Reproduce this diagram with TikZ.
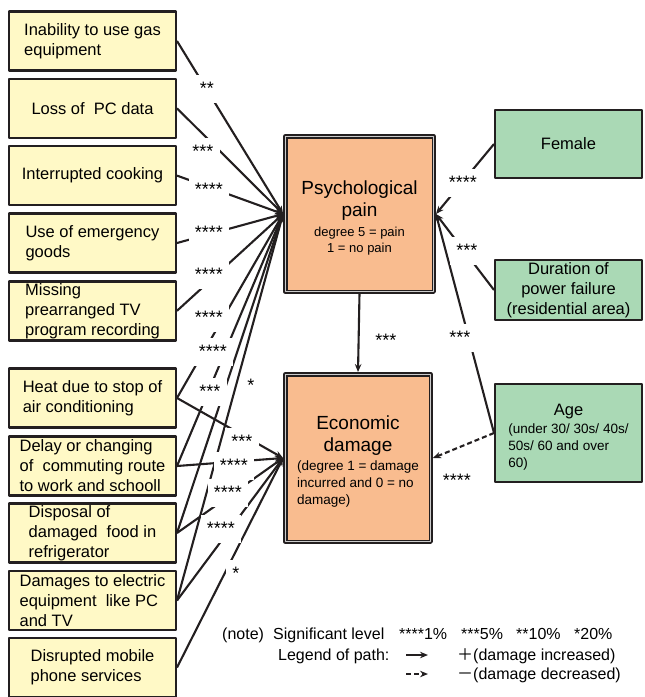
\documentclass[tikz,border=0pt]{standalone}
\usepackage{fontspec}
\usetikzlibrary{arrows.meta}
\setmainfont{Liberation Sans}
\newfontfamily\cjkfont{Noto Sans CJK JP}
\definecolor{boxyellow}{RGB}{255,249,198}
\definecolor{boxpeach}{RGB}{249,188,143}
\definecolor{boxgreen}{RGB}{170,217,181}
\definecolor{edge}{RGB}{35,31,32}
\begin{document}
\begin{tikzpicture}[x=1pt,y=-1pt,>={Stealth[length=8pt,width=6.5pt]},line join=round,
  cause/.style={draw=edge,line width=2.4pt,fill=boxyellow,minimum width=166.6pt,minimum height=59pt,inner sep=0pt,align=left,font=\fontsize{16.5}{20}\selectfont},
  mainbox/.style={draw=edge,line width=1.8pt,double=gray!40,double distance=0.9pt,fill=boxpeach,outer sep=2.2pt,inner sep=0pt,align=center,font=\fontsize{19}{22}\selectfont},
  attr/.style={draw=edge,line width=2pt,fill=boxgreen,minimum width=147pt,inner sep=0pt,align=center,font=\fontsize{16.5}{20}\selectfont},
  conn/.style={draw=edge,line width=2.1pt,->},
  negconn/.style={conn,dash pattern=on 5pt off 3pt},
  sig/.style={fill=white,anchor=base,inner xsep=6pt,inner ysep=6pt,text height=13pt,text depth=3pt,font=\fontsize{18}{18}\selectfont},
  legend/.style={anchor=base west,inner sep=0pt,font=\fontsize{16}{18}\selectfont}]
\useasboundingbox (0,0) rectangle (645,697);
\node[cause] (inab) at (92.5,41) {Inability to use gas\\equipment};
\node[cause] (pcdata) at (92.5,108.3) {Loss of\ \ PC data};
\node[cause] (cook) at (92.5,175.6) {Interrupted cooking};
\node[cause] (goods) at (92.5,243) {Use of emergency\\goods};
\node[cause] (tvrec) at (92.5,310.8) {Missing\\prearranged TV\\program recording};
\node[cause] (heat) at (92.5,398) {Heat due to stop of\\air conditioning};
\node[cause] (commute) at (92.5,466) {Delay or changing\\of\ \ commuting route\\to work and schooll};
\node[cause] (food) at (92.5,533) {Disposal of\\damaged\ \ food in\\refrigerator};
\node[cause] (elec) at (92.5,600.5) {Damages to electric\\equipment\ \ like PC\\and TV};
\node[cause] (mobile) at (92.5,667.5) {Disrupted mobile\\phone services};
\node[mainbox,minimum width=148.5pt,minimum height=155.5pt] (psych) at (359.5,214)
  {\rule{0pt}{22pt}Psychological\\pain\\[-2pt]{\fontsize{13}{16}\selectfont degree 5 = pain}\\[-6pt]{\fontsize{13}{16}\selectfont 1 = no pain}};
\node[mainbox,minimum width=145.5pt,minimum height=167.5pt] (econ) at (358,458)
  {\rule{0pt}{24pt}Economic\\damage\\[-3pt]{\fontsize{13.5}{17}\selectfont\begin{tabular}[t]{@{}l@{}}(degree 1 = damage\\incurred and 0 = no\\damage)\end{tabular}}};
\node[attr,minimum height=68pt] (female) at (568.5,144) {Female};
\node[attr,minimum height=60pt] (dur) at (568.5,290) {Duration of\\power failure\\(residential area)};
\node[attr,minimum height=98pt] (age) at (568.5,433)
  {\rule{0pt}{23pt}Age\\[-2pt]{\fontsize{13.5}{17}\selectfont\begin{tabular}[t]{@{}l@{}}(under 30/ 30s/ 40s/\\50s/ 60 and over\\60)\end{tabular}}};
\foreach \c in {inab,pcdata,cook,goods,tvrec,heat,commute,food,elec}
  \draw[conn] (\c.east) -- (psych.west);
\foreach \c in {heat,commute,food,elec,mobile}
  \draw[conn] (\c.east) -- (econ.west);
\draw[conn] (female.west) -- (psych.east);
\draw[conn] (dur.west) -- (psych.east);
\draw[conn] (age.west) -- (psych.east);
\draw[negconn] (age.west) -- (econ.east);
\draw[conn] (psych.south) -- (econ.north);
% significance of each path
\node[sig] (sgas) at (207,94) {**};
\node[sig] (spc) at (203,157) {***};
\node[sig] (scook) at (209,195) {****};
\node[sig] (sgoods) at (209,238) {****};
\node[sig] (stv) at (209,280) {****};
\node[sig] (sheat) at (209,323) {****};
\node[sig] (scommute) at (213,357) {****};
\node[sig] (sfood) at (210,397) {***};
\node[sig] (selec) at (251,391) {*};
\node[sig] (eheat) at (242,447) {***};
\node[sig] (ecommute) at (234,471) {****};
\node[sig] (efood) at (228,498) {****};
\node[sig] (eelec) at (221,534) {****};
\node[sig] (emobile) at (236,579) {*};
\node[sig] (sfemale) at (463,188) {****};
\node[sig] (sdur) at (467,256) {***};
\node[sig] (sage) at (460,343) {***};
\node[sig] (spsych) at (386,346) {***};
\node[sig] (eage) at (457,486) {****};
% note and legend
\node[legend] (note) at (222,639) {(note)};
\node[legend] (siglevel) at (273,639) {Significant level};
\node[legend] (lvla) at (399,639) {****1\%};
\node[legend] (lvlb) at (461,639) {***5\%};
\node[legend] (lvlc) at (516,639) {**10\%};
\node[legend] (lvld) at (574,639) {*20\%};
\node[legend] (pathkey) at (278,660) {Legend of path:};
\coordinate (posA) at (406,655);
\coordinate (posB) at (428,655);
\coordinate (negA) at (406,674);
\coordinate (negB) at (428,674);
\draw[conn] (posA) -- (posB);
\draw[negconn] (negA) -- (negB);
\node[legend] (plus) at (457,660) {{\cjkfont ＋}(damage increased)};
\node[legend] (minus) at (457,679) {{\cjkfont －}(damage decreased)};
\end{tikzpicture}
\end{document}
